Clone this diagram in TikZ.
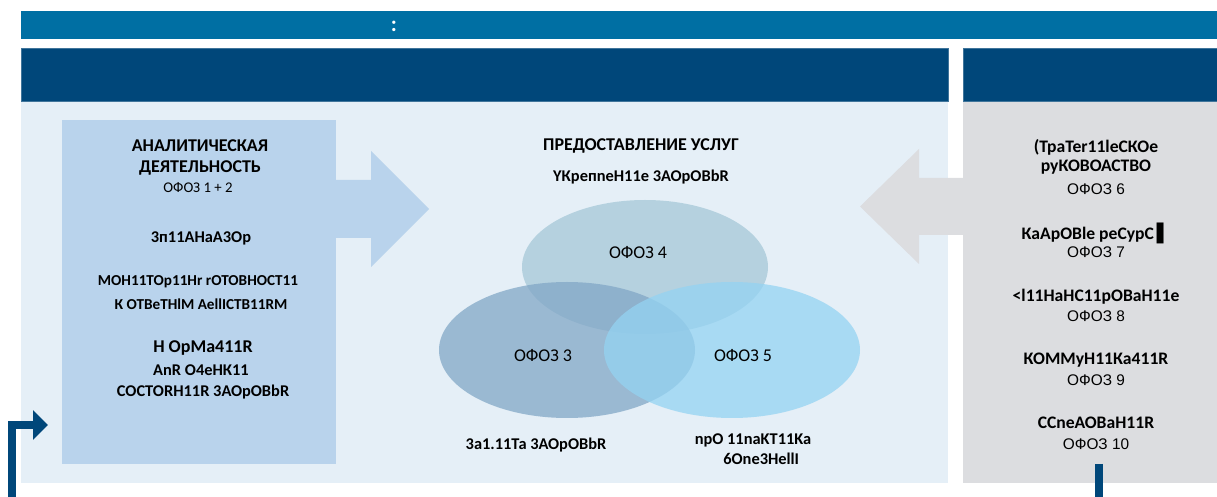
\documentclass[tikz,border=0pt]{standalone}
\usepackage{fontspec}
\setmainfont{Carlito}
\newfontfamily\arialfont{Liberation Sans}
\newfontfamily\blockfont{DejaVu Sans}
\usetikzlibrary{arrows.meta}
\definecolor{barblue}{RGB}{0,111,163}
\definecolor{headblue}{RGB}{0,71,122}
\definecolor{paleblue}{RGB}{229,239,247}
\definecolor{boxblue}{RGB}{185,211,236}
\definecolor{panelgrey}{RGB}{220,221,224}
\definecolor{venntop}{RGB}{165,200,216}
\definecolor{vennleft}{RGB}{130,167,198}
\definecolor{vennright}{RGB}{148,211,242}

\begin{document}
\begin{tikzpicture}[x=0.5pt,y=-0.5pt,
	headtxt/.style={font=\bfseries\fontsize{9}{10}\selectfont},
	boldtxt/.style={font=\bfseries\fontsize{8.2}{9}\selectfont},
	smalltxt/.style={font=\bfseries\fontsize{7.6}{9}\selectfont},
	sidetxt/.style={font=\bfseries\fontsize{8.8}{10}\selectfont},
	codetxt/.style={font=\fontsize{7.4}{9}\selectfont},
	venntxt/.style={font=\fontsize{9}{10}\selectfont},
	greytxt/.style={font=\arialfont\fontsize{7.7}{9}\selectfont}]
	\useasboundingbox (0,0) rectangle (1217,497);
	
	%BANDS AND PANELS
	\fill[barblue] (21,11) rectangle (1217,39);
	\node[text=white,font=\bfseries\fontsize{11}{12}\selectfont] (colon) at (394,26) {:};
	\fill[paleblue] (21,101) rectangle (948,483);
	\fill[panelgrey] (963,101) rectangle (1217,483);
	\draw[headblue!75!white,fill=headblue,line width=0.4pt] (21,48) rectangle (948,101);
	\draw[headblue!75!white,fill=headblue,line width=0.4pt] (963,48) rectangle (1218,101);
	
	%BLOCK ARROWS
	\fill[boxblue] (62,120) rectangle (336,464);
	\fill[boxblue] (336,180)--(371,180)--(371,151)--(429,209)--(371,267)--(371,238)--(336,238)--cycle;
	\fill[panelgrey] (963,178)--(919,178)--(919,149)--(860,206.5)--(919,264)--(919,235)--(963,235)--cycle;
	
	%LEFT BOX
	\node[headtxt] (ana1) at (200,146) {АНАЛИТИЧЕСКАЯ};
	\node[headtxt] (ana2) at (200,168) {ДЕЯТЕЛЬНОСТЬ};
	\node[codetxt] (ana3) at (198,188) {ОФОЗ 1 + 2};
	\node[boldtxt] (ana4) at (201,238) {3п11АНаА3Ор};
	\node[smalltxt] (ana5) at (198,282) {МОН11ТОр11Нr rОТОВНОСТ11};
	\node[smalltxt] (ana6) at (201,304) {К ОТВеТНlМ АеllІСТВ11RМ};
	\node[headtxt] (ana7) at (203,348) {Н ОрМа411R};
	\node[boldtxt] (ana8) at (201,370) {АnR О4еНК11};
	\node[boldtxt] (ana9) at (203,392) {СОСТОRН11R 3АОрОВbR};
	
	%VENN
	\fill[venntop,opacity=0.75] (645,267) ellipse [x radius=61.5pt,y radius=33.5pt];
	\fill[vennleft,opacity=0.75] (567,350) ellipse [x radius=64pt,y radius=34pt];
	\fill[vennright,opacity=0.75] (732,350) ellipse [x radius=64pt,y radius=34pt];
	\node[headtxt] (serv1) at (641,146) {ПРЕДОСТАВЛЕНИЕ УСЛУГ};
	\node[boldtxt] (serv2) at (641,177) {YКрепnеН11е 3АОрОВbR};
	\node[venntxt] (ofoz4) at (638,253) {ОФОЗ 4};
	\node[venntxt] (ofoz3) at (543,356) {ОФОЗ 3};
	\node[venntxt] (ofoz5) at (743,356) {ОФОЗ 5};
	\node[boldtxt] (serv3) at (536,445) {3а1.11Та 3АОрОВbR};
	\node[boldtxt,align=center] (serv4) at (753,449) {npO 11naKT11Ka\\[1pt]\hspace*{1em}6One3HellI};
	
	%RIGHT PANEL
	\foreach \name/\y/\txt in {r1/147/(ТраТеr11lеСКОе, r2/167/руКОВОАСТВО, r4/233/КаАрОВlе реСурС\,{\blockfont ▌}, r6/297/<l11НаНС11рОВаН11е, r8/360/КОММуН11Ка411R, r10/423/ССnеАОВаН11R}{
		\node[sidetxt] (\name) at (1096,\y) {\txt};
	}
	\foreach \name/\y/\num in {r3/189/6, r5/252/7, r7/316/8, r9/380/9, r11/444/10}{
		\node[greytxt] (\name) at (1096,\y) {ОФОЗ \num};
	}
	
	%FLOW LINES
	\coordinate (feedin) at (12,497);
	\coordinate (feedtip) at (48,425);
	\draw[headblue,line width=4pt,-{Triangle[length=7.5pt,width=14.5pt]}] (feedin)|-(feedtip);
	\coordinate (outtop) at (1099,464);
	\coordinate (outend) at (1099,497);
	\draw[headblue,line width=4pt] (outtop)--(outend);
\end{tikzpicture}
\end{document}
